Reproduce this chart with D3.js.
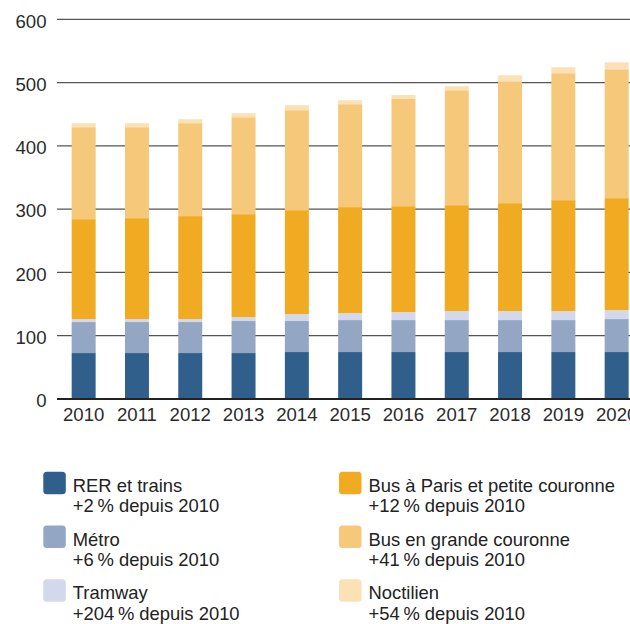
<!DOCTYPE html>
<html lang="fr">
<head>
<meta charset="utf-8">
<script src="https://cdn.jsdelivr.net/npm/d3@7"></script>
<style>
  html, body { margin: 0; padding: 0; background: #fff; }
  svg { display: block; font-family: "Liberation Sans", Arial, Helvetica, sans-serif; }
</style>
</head>
<body>
<svg id="chart" width="630" height="624"></svg>
<script>
// Voyages annuels (millions) par mode, 2010-2020
const years = ["2010", "2011", "2012", "2013", "2014", "2015", "2016", "2017", "2018", "2019", "2020"];
const rer       = [72.6, 72.6, 72.6, 72.6, 74.2, 74.2, 74.2, 74.2, 74.2, 74.2, 74.2];
const metro     = [49.0, 49.0, 49.0, 50.6, 49.0, 50.5, 50.5, 50.5, 50.5, 50.5, 52.1];
const tram      = [4.7, 4.7, 4.7, 6.3, 11.0, 11.1, 12.7, 14.3, 14.3, 14.3, 14.2];
const busParis  = [157.9, 159.5, 162.7, 162.6, 164.2, 167.4, 167.3, 167.3, 170.5, 175.2, 176.9];
const busGrande = [145.3, 143.7, 146.8, 153.2, 158.0, 162.6, 169.5, 181.6, 192.6, 200.6, 203.6];
const noctilien = [6.3, 6.3, 6.3, 6.3, 7.9, 6.3, 6.3, 6.3, 9.5, 9.4, 11.0];

const yTicks = [0, 100, 200, 300, 400, 500, 600];

const seriesKeys  = ["rer", "metro", "tram", "busParis", "busGrande", "noctilien"];
const seriesNames = ["RER et trains", "Métro", "Tramway", "Bus à Paris et petite couronne", "Bus en grande couronne", "Noctilien"];
const seriesNotes = ["+2\u202F% depuis 2010", "+6\u202F% depuis 2010", "+204\u202F% depuis 2010",
                     "+12\u202F% depuis 2010", "+41\u202F% depuis 2010", "+54\u202F% depuis 2010"];
const seriesColors = ["#2f5f8a", "#93a6c4", "#d3d9ea", "#f0ab22", "#f6c87a", "#fbe1b5"];

const columns = { rer, metro, tram, busParis, busGrande, noctilien };
const table = years.map((year, i) => {
  const row = { year };
  seriesKeys.forEach(k => { row[k] = columns[k][i]; });
  return row;
});

const svg = d3.select("#chart");
const plotLeft = 57;
const plotRight = 630;

const x = d3.scaleBand()
  .domain(years)
  .range([plotLeft, 643.3])
  .paddingInner(0.55)
  .paddingOuter(0.275);

const y = d3.scaleLinear()
  .domain([0, 600])
  .range([399, 19.3]);

const color = d3.scaleOrdinal().domain(seriesKeys).range(seriesColors);

// horizontal gridlines
svg.append("g")
  .selectAll("line")
  .data(yTicks.filter(t => t > 0))
  .join("line")
  .attr("x1", plotLeft)
  .attr("x2", plotRight)
  .attr("y1", d => y(d))
  .attr("y2", d => y(d))
  .attr("stroke", "#555")
  .attr("stroke-width", 1.3);

// y axis labels
const yAxis = svg.append("g")
  .attr("transform", `translate(${plotLeft},0)`)
  .call(d3.axisLeft(y).tickValues(yTicks).tickSize(0).tickPadding(10.5).tickFormat(d3.format("d")));
yAxis.select(".domain").remove();
yAxis.selectAll("text")
  .attr("dy", "0.42em")
  .attr("fill", "#2b2b2b")
  .style("font-size", "18.6px")
  .style("font-family", "'Liberation Sans', Arial, sans-serif");

// stacked bars
const stacked = d3.stack().keys(seriesKeys)(table);

svg.append("g")
  .selectAll("g")
  .data(stacked)
  .join("g")
  .attr("fill", d => color(d.key))
  .selectAll("rect")
  .data(d => d)
  .join("rect")
  .attr("x", d => x(d.data.year))
  .attr("width", x.bandwidth())
  .attr("y", d => y(d[1]))
  .attr("height", d => y(d[0]) - y(d[1]));

// baseline
svg.append("line")
  .attr("x1", plotLeft)
  .attr("x2", plotRight)
  .attr("y1", y(0))
  .attr("y2", y(0))
  .attr("stroke", "#222")
  .attr("stroke-width", 2);

// x axis labels
const xAxis = svg.append("g")
  .attr("transform", `translate(0,${y(0)})`)
  .call(d3.axisBottom(x).tickSize(0).tickPadding(8.5));
xAxis.select(".domain").remove();
xAxis.selectAll("text")
  .attr("fill", "#2b2b2b")
  .style("font-size", "18.6px")
  .style("font-family", "'Liberation Sans', Arial, sans-serif");

// legend: two columns of three entries
const legendCols = [43.3, 339];
const legendTop = 471.7;
const legendStep = 53.8;

const legend = svg.append("g")
  .selectAll("g")
  .data(seriesKeys)
  .join("g")
  .attr("transform", (d, i) => `translate(${legendCols[Math.floor(i / 3)]},${legendTop + (i % 3) * legendStep})`);

legend.append("rect")
  .attr("width", 22.5)
  .attr("height", 22.5)
  .attr("rx", 3.5)
  .attr("fill", d => color(d));

const legendText = legend.append("text")
  .attr("x", 29.5)
  .attr("fill", "#222")
  .style("font-size", "18.4px");

legendText.append("tspan")
  .attr("x", 29.5)
  .attr("y", 20.2)
  .text((d, i) => seriesNames[i]);

legendText.append("tspan")
  .attr("x", 29.5)
  .attr("y", 40.4)
  .text((d, i) => seriesNotes[i]);
</script>
</body>
</html>
